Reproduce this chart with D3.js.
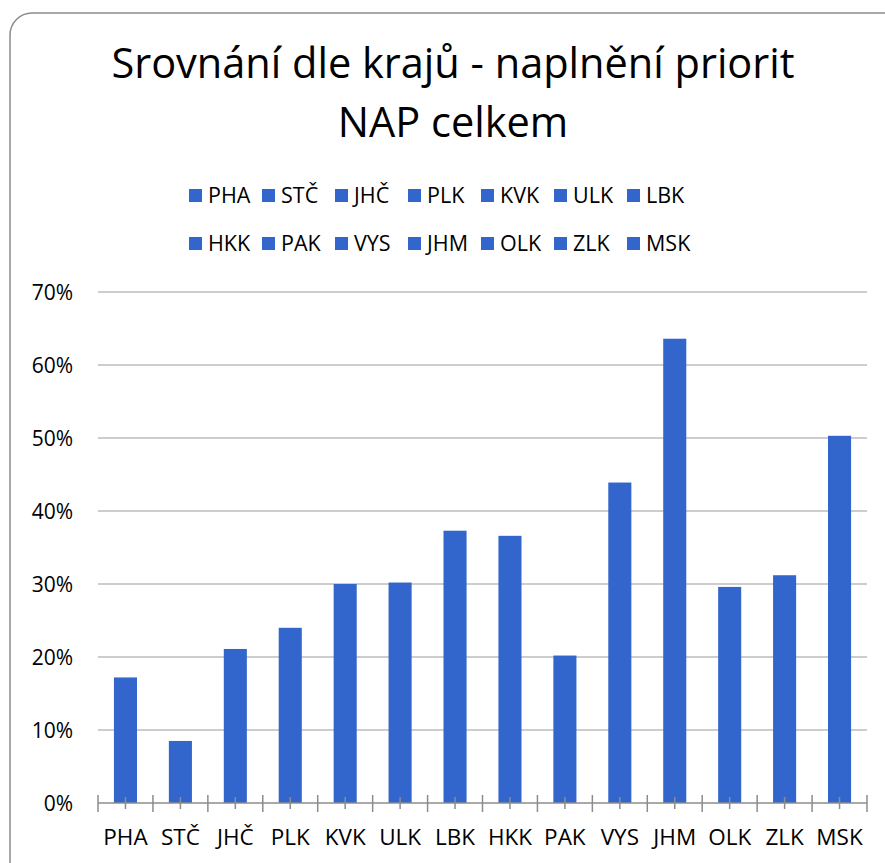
<!DOCTYPE html>
<html>
<head>
<meta charset="utf-8">
<script src="https://cdn.jsdelivr.net/npm/d3@7"></script>
<style>
  body { margin: 0; background: #fff; }
  svg text { font-family: "Open Sans", "Noto Sans", sans-serif; fill: #000; }
</style>
</head>
<body>
<div id="chart"></div>
<script>
// data
const regions = ["PHA", "STČ", "JHČ", "PLK", "KVK", "ULK", "LBK", "HKK", "PAK", "VYS", "JHM", "OLK", "ZLK", "MSK"];
const values = [0.172, 0.085, 0.211, 0.240, 0.300, 0.302, 0.373, 0.366, 0.202, 0.439, 0.636, 0.296, 0.312, 0.503];
const yTicks = [0, 0.1, 0.2, 0.3, 0.4, 0.5, 0.6, 0.7];
const titleLines = ["Srovnání dle krajů - naplnění priorit", "NAP celkem"];

const W = 885, H = 863;
const barColor = "#3366CC";

const svg = d3.select("#chart")
  .append("svg")
    .attr("width", W)
    .attr("height", H);

// chart frame (cut off on right and bottom like the original)
svg.append("rect")
  .attr("x", 10).attr("y", 13)
  .attr("width", 900).attr("height", 880)
  .attr("rx", 22).attr("ry", 22)
  .attr("fill", "#fff")
  .attr("stroke", "#8c8c8c")
  .attr("stroke-width", 1.5);

// title
svg.append("g")
  .selectAll("text")
  .data(titleLines)
  .join("text")
    .attr("x", 453)
    .attr("y", (d, i) => 78 + i * 59)
    .attr("text-anchor", "middle")
    .style("font-size", "41.5px")
    .text(d => d);

// legend - two rows of seven
const legend = svg.append("g")
  .selectAll("g")
  .data(regions)
  .join("g")
    .attr("transform", (d, i) => `translate(${189 + (i % 7) * 73},${189 + Math.floor(i / 7) * 48})`);
legend.append("rect")
  .attr("width", 13).attr("height", 13)
  .attr("fill", barColor);
legend.append("text")
  .attr("x", 19).attr("y", 13.5)
  .style("font-size", "21.5px")
  .text(d => d);

// scales
const x = d3.scaleBand()
  .domain(regions)
  .range([98, 867])
  .paddingInner(0.58)
  .paddingOuter(0.29);
const y = d3.scaleLinear()
  .domain([0, 0.7])
  .range([803, 292]);

// gridlines
svg.append("g")
  .selectAll("line")
  .data(yTicks.filter(d => d > 0))
  .join("line")
    .attr("x1", 98).attr("x2", 867)
    .attr("y1", d => y(d)).attr("y2", d => y(d))
    .attr("stroke", "#bcbcbc")
    .attr("stroke-width", 1.5);

// y axis labels
svg.append("g")
  .selectAll("text")
  .data(yTicks)
  .join("text")
    .attr("x", 73)
    .attr("y", d => y(d))
    .attr("dy", "0.36em")
    .attr("text-anchor", "end")
    .style("font-size", "21px")
    .text(d => d3.format(".0%")(d));

// bars
svg.append("g")
  .selectAll("rect")
  .data(values)
  .join("rect")
    .attr("x", (d, i) => x(regions[i]))
    .attr("y", d => y(d))
    .attr("width", x.bandwidth())
    .attr("height", d => y(0) - y(d))
    .attr("fill", barColor);

// x axis line with tick marks at boundaries and centres
const axis = svg.append("g").attr("stroke", "#8c8c8c").attr("stroke-width", 1.5);
axis.append("line")
  .attr("x1", 98).attr("x2", 867)
  .attr("y1", y(0)).attr("y2", y(0));
const step = x.step();
const x0 = x(regions[0]) - x.paddingOuter() * step;
axis.selectAll(".bound")
  .data(d3.range(regions.length + 1))
  .join("line")
    .attr("class", "bound")
    .attr("x1", i => x0 + i * step).attr("x2", i => x0 + i * step)
    .attr("y1", y(0) - 8).attr("y2", y(0) + 9);
axis.selectAll(".mid")
  .data(regions)
  .join("line")
    .attr("class", "mid")
    .attr("x1", d => x(d) + x.bandwidth() / 2).attr("x2", d => x(d) + x.bandwidth() / 2)
    .attr("y1", y(0) - 6).attr("y2", y(0) + 6);

// category labels
svg.append("g")
  .selectAll("text")
  .data(regions)
  .join("text")
    .attr("x", d => x(d) + x.bandwidth() / 2)
    .attr("y", 845)
    .attr("text-anchor", "middle")
    .style("font-size", "22.5px")
    .text(d => d);
</script>
</body>
</html>
